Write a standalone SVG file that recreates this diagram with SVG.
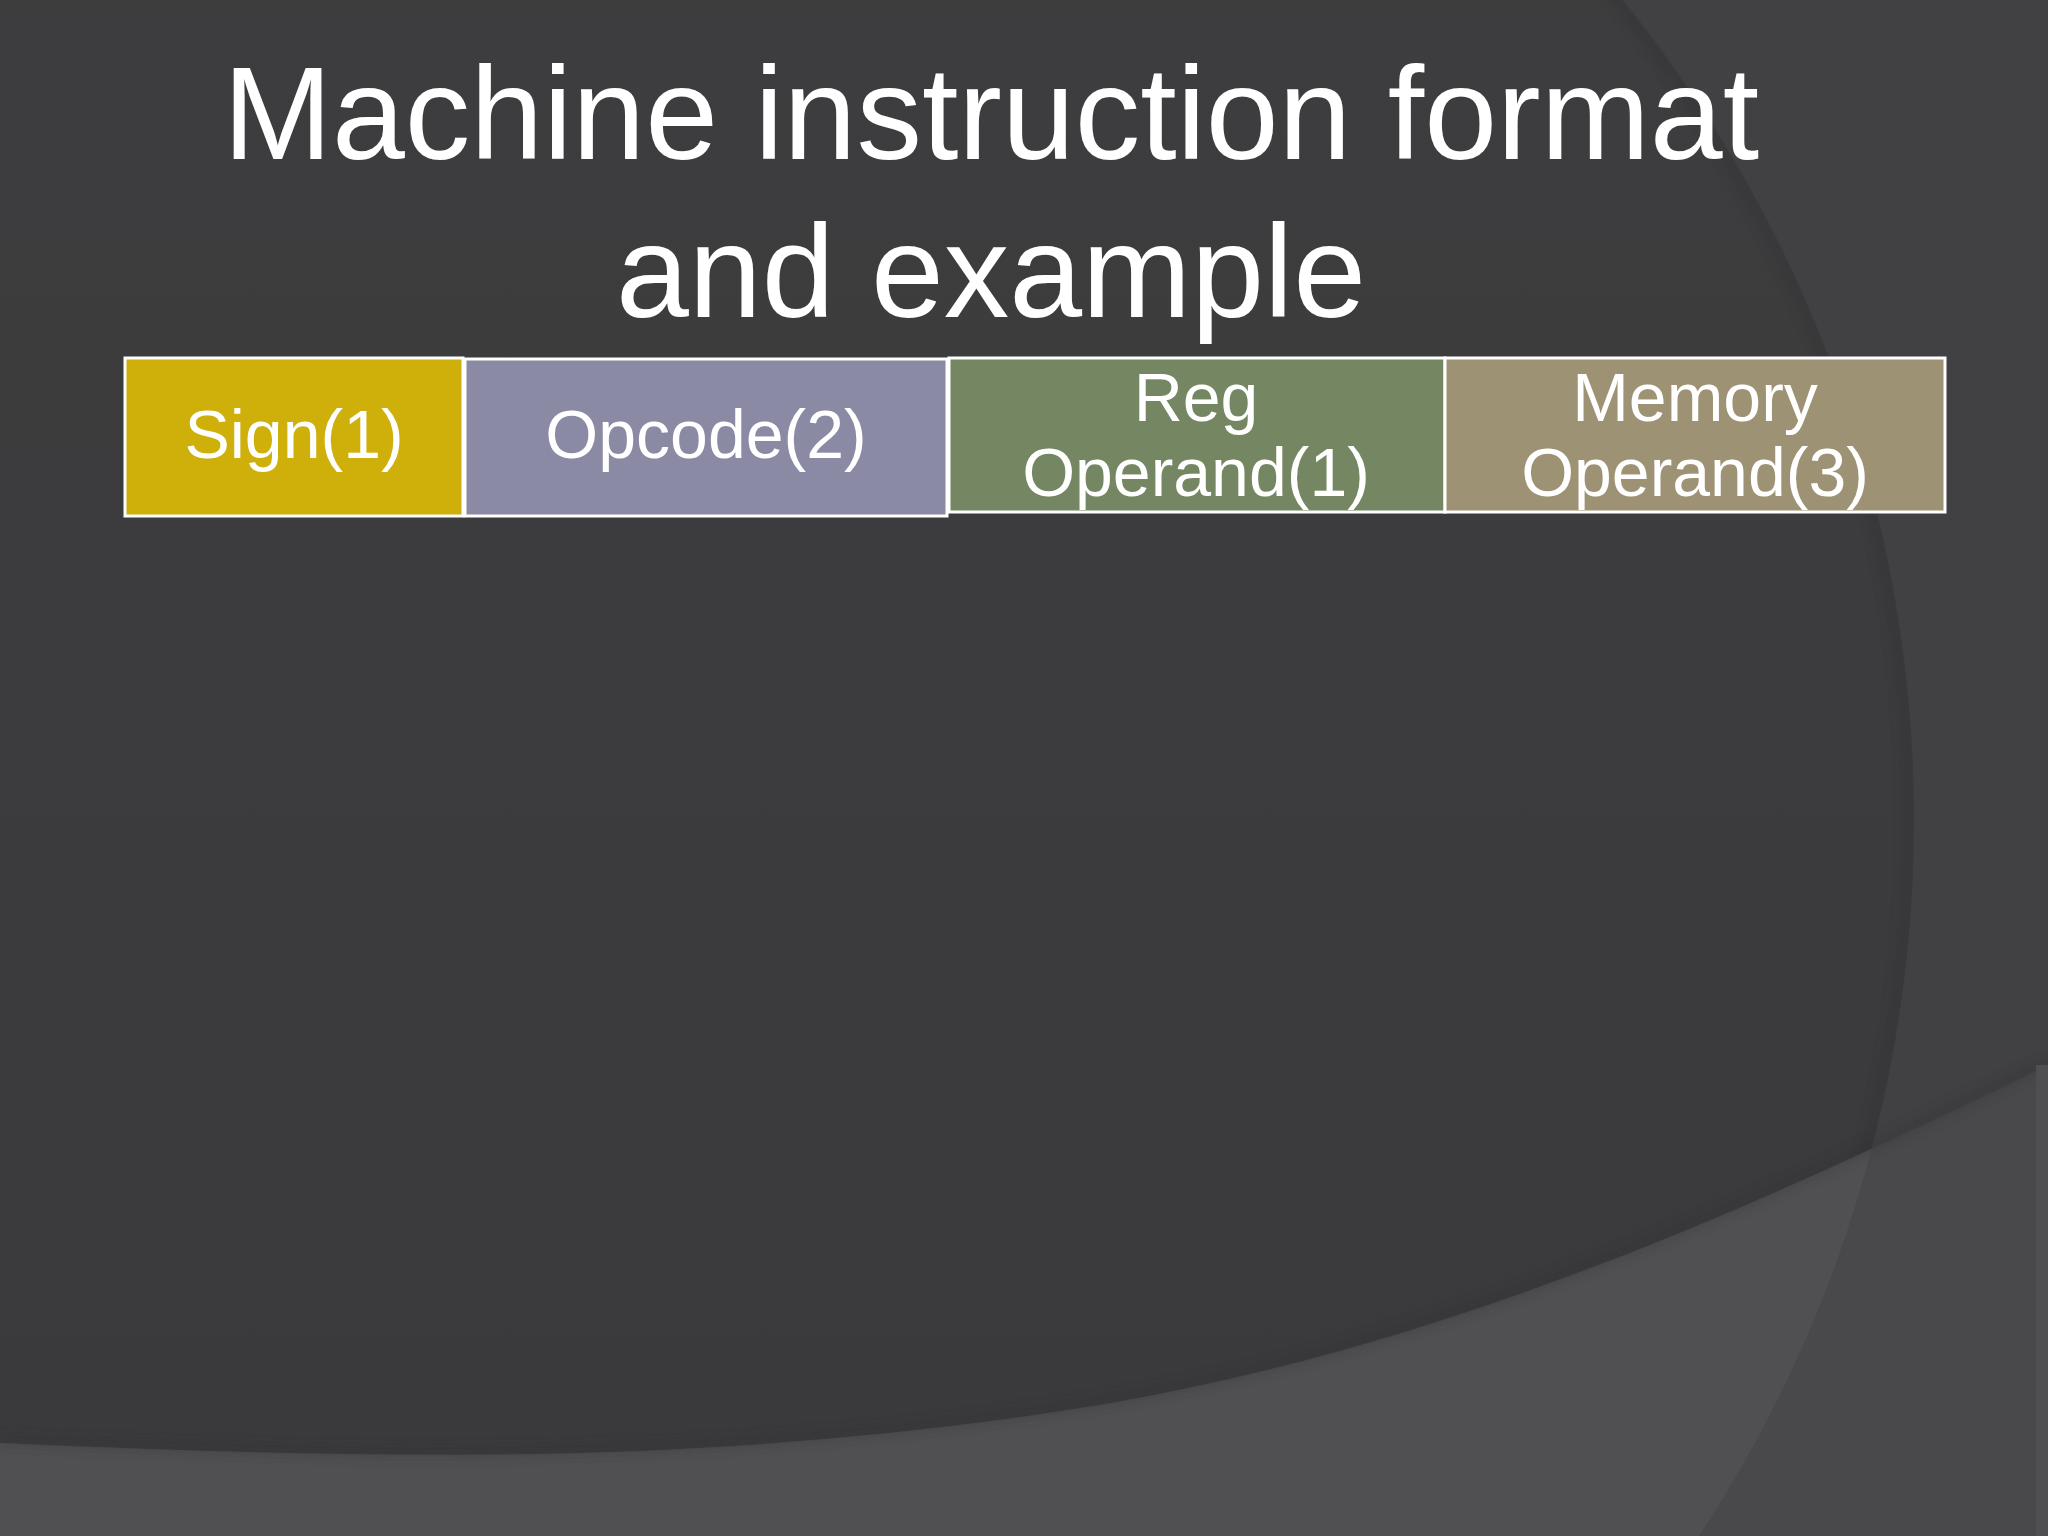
<svg xmlns="http://www.w3.org/2000/svg" width="2048" height="1536" viewBox="0 0 2048 1536">
<defs>
<linearGradient id="bg" x1="0" y1="0" x2="0" y2="1">
<stop offset="0" stop-color="#3e3e3f"/>
<stop offset="1" stop-color="#39383b"/>
</linearGradient>
<filter id="soft" x="-10%" y="-10%" width="120%" height="120%"><feGaussianBlur stdDeviation="6"/></filter>
<clipPath id="circ"><circle cx="614" cy="820" r="1300"/></clipPath>
<style>
.box{stroke:#ffffff;stroke-width:3}
.lbl{font-family:"Liberation Sans",Arial,sans-serif;font-size:68px;fill:#ffffff;text-anchor:middle}
.title{font-family:"Liberation Sans",Arial,sans-serif;font-size:131px;fill:#ffffff;text-anchor:middle}
</style>
</defs>
<g id="background">
<rect x="0" y="0" width="2048" height="1536" fill="#414043"/>
<circle cx="614" cy="820" r="1300" fill="url(#bg)"/>
<circle cx="614" cy="820" r="1296" fill="none" stroke="#333235" stroke-width="8" opacity="0.6" filter="url(#soft)" clip-path="url(#circ)"/>
<path d="M0,1443 C350,1458 700,1470 1100,1405 C1450,1345 1750,1210 2048,1065 L2048,1536 L0,1536 Z" fill="#49484b"/>
<path d="M0,1443 C350,1458 700,1470 1100,1405 C1450,1345 1750,1210 2048,1065 L2048,1536 L0,1536 Z" fill="#504f51" clip-path="url(#circ)"/>
<path d="M0,1440 C350,1455 700,1467 1100,1402 C1450,1342 1750,1207 2048,1062" fill="none" stroke="#2f2e31" stroke-width="6" opacity="0.5" filter="url(#soft)"/>
<rect x="2036" y="1065" width="12" height="471" fill="#4f4e51"/>
</g>
<g id="title">
<text class="title" x="991" y="159">Machine instruction format</text>
<text class="title" x="991" y="317">and example</text>
</g>
<g id="node-sign">
<rect class="box" x="125" y="358" width="338" height="158" fill="#cfaf0a"/>
<text class="lbl" x="294" y="458">Sign(1)</text>
</g>
<g id="node-opcode">
<rect class="box" x="465" y="359" width="482" height="157" fill="#8a8aa4"/>
<text class="lbl" x="706" y="458">Opcode(2)</text>
</g>
<g id="node-reg">
<rect class="box" x="949" y="358" width="496" height="154" fill="#758662"/>
<text class="lbl" x="1196" y="421">Reg</text>
<text class="lbl" x="1196" y="496">Operand(1)</text>
</g>
<g id="node-memory">
<rect class="box" x="1445" y="358" width="500" height="154" fill="#9e9274"/>
<text class="lbl" x="1695" y="421">Memory</text>
<text class="lbl" x="1695" y="496">Operand(3)</text>
</g>
<g id="connectors"/>
</svg>
